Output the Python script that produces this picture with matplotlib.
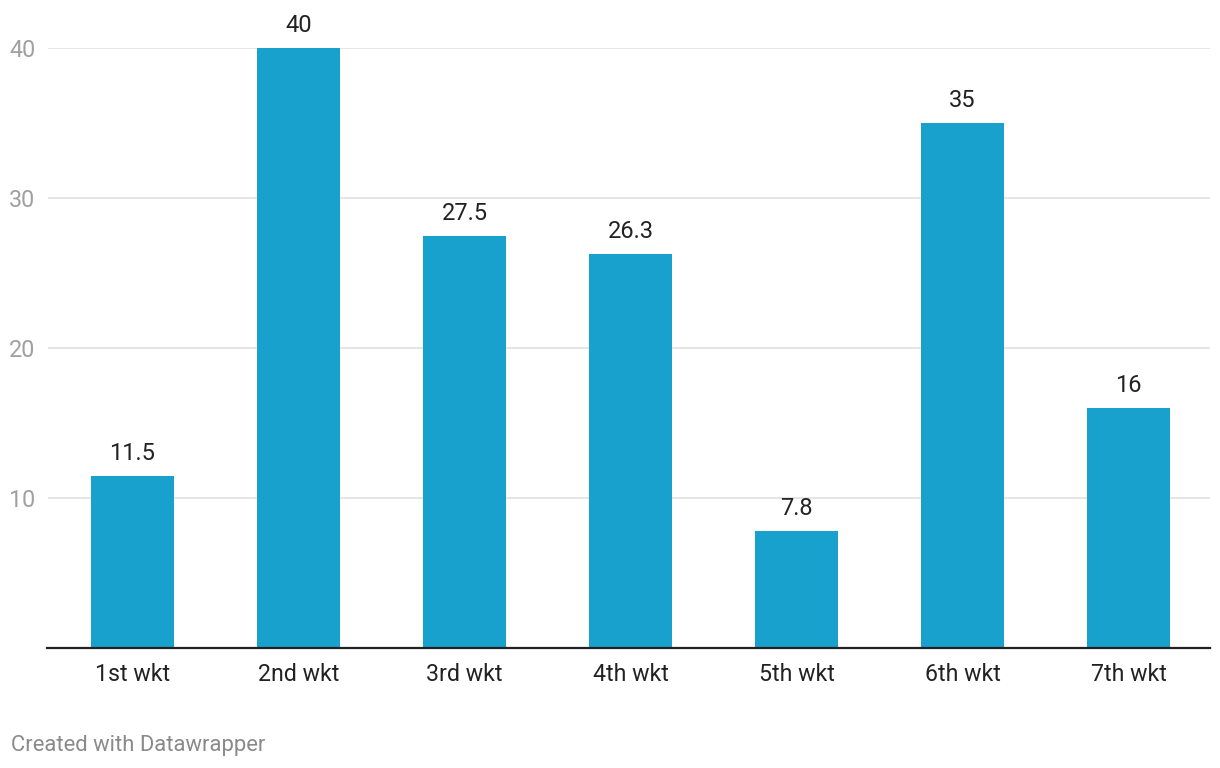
import matplotlib
matplotlib.use("Agg")
import matplotlib.pyplot as plt

categories = ["1st wkt", "2nd wkt", "3rd wkt", "4th wkt", "5th wkt", "6th wkt", "7th wkt"]
values = [11.5, 40, 27.5, 26.3, 7.8, 35, 16]
value_labels = ["11.5", "40", "27.5", "26.3", "7.8", "35", "16"]
yticks = [10, 20, 30, 40]

plt.rcParams['font.family'] = ['Roboto', 'DejaVu Sans']

W, H = 1220, 768
fig = plt.figure(figsize=(W / 100, H / 100), dpi=100)
ax = fig.add_axes([47.5 / W, (H - 648) / H, (1210 - 47.5) / W, 600 / H])

x = list(range(len(categories)))
ax.bar(x, values, width=0.5, color="#18a1cd", zorder=2)
ax.set_xlim(-0.512, 6.491)
ax.set_ylim(0, 40)

ax.set_yticks(yticks)
ax.set_yticklabels([str(t) for t in yticks])
ax.grid(axis="y", color="#e3e3e3", linewidth=1.3, zorder=0)
ax.set_xticks(x)
ax.set_xticklabels(categories)

ax.tick_params(axis="y", length=0, pad=8.6, labelsize=16.8, labelcolor="#a0a0a0")
ax.tick_params(axis="x", length=0, pad=11, labelsize=16.7, labelcolor="#222222")

for s in ["top", "right", "left"]:
    ax.spines[s].set_visible(False)
ax.spines["bottom"].set_color("#222222")
ax.spines["bottom"].set_linewidth(1.6)
ax.spines["bottom"].set_zorder(3)

for xi, v, lab in zip(x, values, value_labels):
    ax.annotate(lab, (xi, v), xytext=(0, 11.5), textcoords="offset points",
                ha="center", va="baseline", fontsize=17, color="#222222",
                annotation_clip=False)

fig.text(11 / W, (H - 745) / H, "Created with Datawrapper", fontsize=15.8,
         color="#8a8a8a", ha="left", va="center")

fig.savefig("out.png", dpi=100)
